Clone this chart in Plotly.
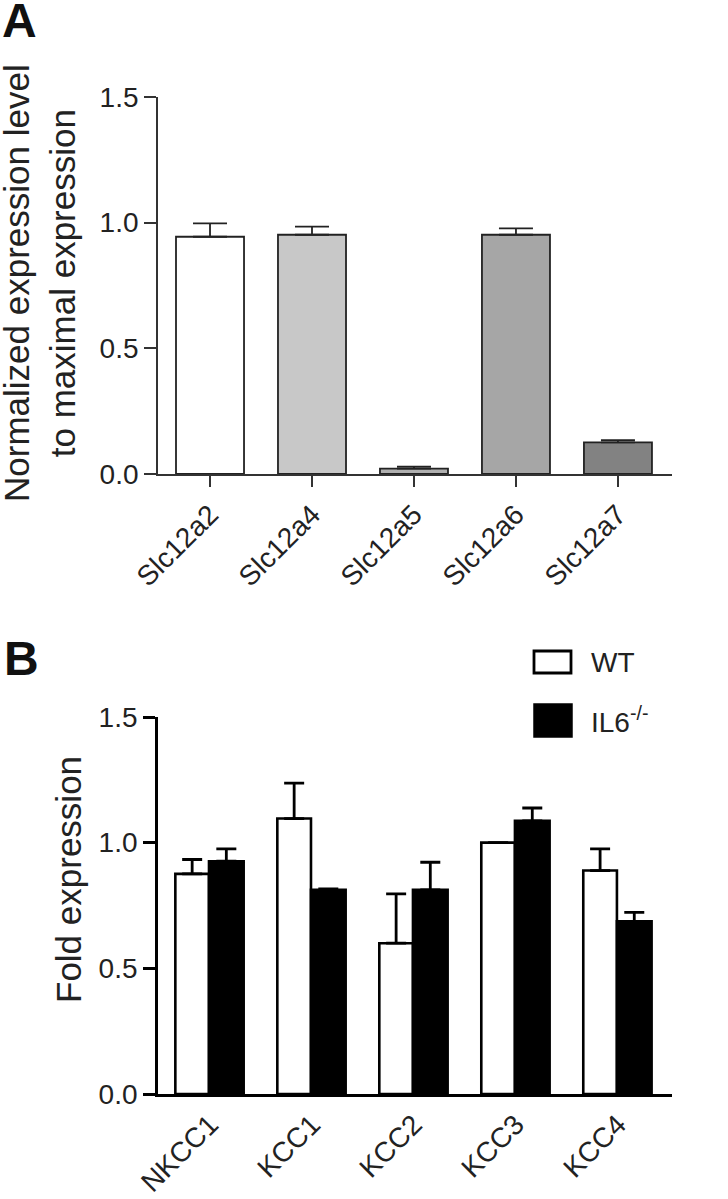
import plotly.graph_objects as go

W, H = 728, 1199

# Panel A data
genes_a = ["Slc12a2", "Slc12a4", "Slc12a5", "Slc12a6", "Slc12a7"]
vals_a = [0.944, 0.952, 0.021, 0.952, 0.126]
err_a = [0.053, 0.032, 0.008, 0.025, 0.009]
colors_a = ["#ffffff", "#c8c8c8", "#b0b0b0", "#a6a6a6", "#828282"]

# Panel B data
genes_b = ["NKCC1", "KCC1", "KCC2", "KCC3", "KCC4"]
wt_vals = [0.876, 1.096, 0.600, 1.000, 0.889]
wt_err = [0.057, 0.141, 0.196, 0.0, 0.086]
ko_vals = [0.926, 0.812, 0.812, 1.087, 0.687]
ko_err = [0.049, 0.004, 0.110, 0.051, 0.036]

yticks = [0, 0.5, 1.0, 1.5]
yticktext = ["0.0", "0.5", "1.0", "1.5"]

FONT = "Liberation Sans, Arial, Helvetica, sans-serif"

def px_x(p):
    return p / W

def px_y(p):
    return (H - p) / H

fig = go.Figure()

fig.add_trace(go.Bar(
    x=genes_a, y=vals_a, width=0.667,
    marker=dict(color=colors_a, line=dict(color="#222222", width=1.8)),
    error_y=dict(type="data", array=err_a, arrayminus=[0]*5, symmetric=False,
                 color="#222222", thickness=1.8, width=17),
    xaxis="x", yaxis="y", showlegend=False,
))

fig.add_trace(go.Bar(
    x=genes_b, y=wt_vals, width=0.33, offset=-0.34,
    marker=dict(color="#ffffff", line=dict(color="#000000", width=2.6)),
    error_y=dict(type="data", array=wt_err, arrayminus=[0]*5, symmetric=False,
                 color="#000000", thickness=2.8, width=10),
    xaxis="x2", yaxis="y2", showlegend=False, name="WT",
))
fig.add_trace(go.Bar(
    x=genes_b, y=ko_vals, width=0.34, offset=-0.01,
    marker=dict(color="#000000", line=dict(color="#000000", width=2.6)),
    error_y=dict(type="data", array=ko_err, arrayminus=[0]*5, symmetric=False,
                 color="#000000", thickness=2.8, width=10),
    xaxis="x2", yaxis="y2", showlegend=False, name="IL6-/-",
))

xdom = [px_x(158), px_x(672)]
tickfont = dict(family=FONT, size=28, color="#222222")

fig.update_layout(
    width=W, height=H,
    margin=dict(l=0, r=0, t=0, b=0),
    paper_bgcolor="white", plot_bgcolor="white",
    barmode="overlay",
    font=dict(family=FONT, color="#222222"),
    xaxis=dict(domain=xdom, anchor="y", range=[-0.51, 4.53],
               showline=True, linecolor="#333333", linewidth=1.8,
               ticks="outside", ticklen=11, tickwidth=1.8, tickcolor="#333333",
               tickangle=-45, tickfont=tickfont, showgrid=False, zeroline=False,
               automargin=False),
    yaxis=dict(domain=[px_y(474), px_y(97)], anchor="x", range=[0, 1.5],
               tickvals=yticks, ticktext=yticktext,
               showline=True, linecolor="#333333", linewidth=1.8,
               ticks="outside", ticklen=12, tickwidth=1.8, tickcolor="#333333",
               tickfont=tickfont, showgrid=False, zeroline=False, automargin=False),
    xaxis2=dict(domain=xdom, anchor="y2", range=[-0.51, 4.53],
                showline=True, linecolor="#000000", linewidth=2.8,
                ticks="", tickangle=-45, tickfont=tickfont,
                showgrid=False, zeroline=False, automargin=False),
    yaxis2=dict(domain=[px_y(1094), px_y(717)], anchor="x2", range=[0, 1.5],
                tickvals=yticks, ticktext=yticktext,
                showline=True, linecolor="#000000", linewidth=2.8,
                ticks="outside", ticklen=12, tickwidth=2.8, tickcolor="#000000",
                tickfont=tickfont, showgrid=False, zeroline=False, automargin=False),
)

ann = []
ann.append(dict(text="<b>A</b>", x=px_x(19), y=px_y(20), xref="paper", yref="paper",
                xanchor="center", yanchor="middle", showarrow=False,
                font=dict(family=FONT, size=48, color="#111111")))
ann.append(dict(text="<b>B</b>", x=px_x(21), y=px_y(658), xref="paper", yref="paper",
                xanchor="center", yanchor="middle", showarrow=False,
                font=dict(family=FONT, size=48, color="#111111")))
ann.append(dict(text="Normalized expression level<br>to maximal expression",
                x=px_x(39), y=px_y(283), xref="paper", yref="paper",
                xanchor="center", yanchor="middle", textangle=-90, showarrow=False,
                font=dict(family=FONT, size=35, color="#222222")))
ann.append(dict(text="Fold expression",
                x=px_x(68), y=px_y(880), xref="paper", yref="paper",
                xanchor="center", yanchor="middle", textangle=-90, showarrow=False,
                font=dict(family=FONT, size=35, color="#222222")))
ann.append(dict(text="WT", x=px_x(589), y=px_y(662), xref="paper", yref="paper",
                xanchor="left", yanchor="middle", showarrow=False,
                font=dict(family=FONT, size=28, color="#222222")))
ann.append(dict(text="IL6<sup>-/-</sup>", x=px_x(589), y=px_y(720), xref="paper", yref="paper",
                xanchor="left", yanchor="middle", showarrow=False,
                font=dict(family=FONT, size=28, color="#222222")))
fig.update_layout(annotations=ann)

fig.add_shape(type="rect", xref="paper", yref="paper",
              x0=px_x(534), x1=px_x(571), y0=px_y(673), y1=px_y(651),
              fillcolor="white", line=dict(color="#000000", width=2.8))
fig.add_shape(type="rect", xref="paper", yref="paper",
              x0=px_x(534), x1=px_x(572), y0=px_y(737), y1=px_y(704),
              fillcolor="black", line=dict(color="#000000", width=1.5))

fig.write_html("out.html", config={"displayModeBar": False},
               post_script="document.body.style.margin='0';")
